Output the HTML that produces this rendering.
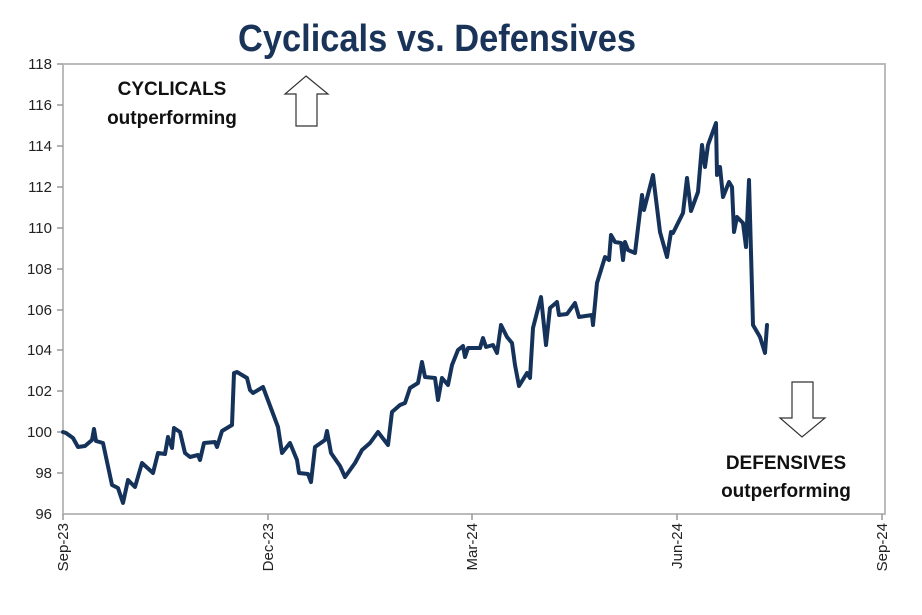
<!DOCTYPE html><html><head><style>body{margin:0;background:#fff}</style></head><body>
<svg width="922" height="610" xmlns="http://www.w3.org/2000/svg" font-family="Liberation Sans, Arial, sans-serif">
<rect width="922" height="610" fill="#fff"/>
<text x="238" y="51" textLength="398" lengthAdjust="spacingAndGlyphs" font-weight="bold" font-size="38" fill="#1a3358">Cyclicals vs. Defensives</text>
<g stroke="#bbb" stroke-width="2" fill="none">
<polyline points="63,64 885,64 885,514 63,514 63,64"/>
</g>
<g stroke="#999" stroke-width="1.5">
<line x1="57" y1="64" x2="63" y2="64"/><line x1="57" y1="105" x2="63" y2="105"/><line x1="57" y1="146" x2="63" y2="146"/><line x1="57" y1="187" x2="63" y2="187"/><line x1="57" y1="228" x2="63" y2="228"/><line x1="57" y1="269" x2="63" y2="269"/><line x1="57" y1="310" x2="63" y2="310"/><line x1="57" y1="350" x2="63" y2="350"/><line x1="57" y1="391" x2="63" y2="391"/><line x1="57" y1="432" x2="63" y2="432"/><line x1="57" y1="473" x2="63" y2="473"/>
<line x1="268" y1="514" x2="268" y2="520"/><line x1="472" y1="514" x2="472" y2="520"/><line x1="677" y1="514" x2="677" y2="520"/><line x1="63" y1="514" x2="63" y2="520"/><line x1="882" y1="514" x2="882" y2="520"/>
</g>
<g font-size="15" fill="#222" text-anchor="end">
<text x="52" y="69">118</text><text x="52" y="110">116</text><text x="52" y="151">114</text><text x="52" y="192">112</text><text x="52" y="233">110</text><text x="52" y="274">108</text><text x="52" y="315">106</text><text x="52" y="355">104</text><text x="52" y="396">102</text><text x="52" y="437">100</text><text x="52" y="478">98</text><text x="52" y="519">96</text>
</g>
<g font-size="15" fill="#222" text-anchor="end">
<text transform="translate(68,523) rotate(-90)">Sep-23</text>
<text transform="translate(273,523) rotate(-90)">Dec-23</text>
<text transform="translate(477,523) rotate(-90)">Mar-24</text>
<text transform="translate(682,523) rotate(-90)">Jun-24</text>
<text transform="translate(887,523) rotate(-90)">Sep-24</text>
</g>
<polyline fill="none" stroke="#15335a" stroke-width="4" stroke-linejoin="round" stroke-linecap="round" points="63,432 66,433 73,438 78,447 85,446 92,440 94,429 96,441 103,443 112,485 118,488 123,503 128,480 135,487 142,463 153,473 158,453 165,454 168,437 172,448 174,428 180,432 185,453 190,457 198,455 200,460 204,443 215,442 217,447 222,431 232,425 234,373 237,372 247,378 250,390 253,393 263,387 278,427 282,453 290,443 297,460 299,473 308,474 311,482 315,447 325,440 327,431 331,453 340,466 345,477 355,463 362,450 370,443 378,432 388,445 392,412 400,405 405,403 410,388 418,383 422,362 425,377 435,378 438,400 442,378 448,385 452,365 458,350 463,346 465,357 468,348 480,348 483,338 486,347 493,345 497,353 501,325 507,337 512,343 515,365 519,386 527,373 530,378 533,328 541,297 546,345 550,308 557,302 559,315 567,314 575,303 579,317 592,315 593,325 597,283 605,257 609,260 611,235 615,242 621,243 623,260 625,242 628,250 635,253 642,195 644,210 653,175 660,232 667,257 671,232 673,233 683,213 687,178 691,211 698,192 702,145 705,167 708,145 716,123 717,175 720,167 723,197 729,182 732,187 734,232 737,217 743,223 746,247 749,180 753,325 760,337 765,353 767,325"/>
<g font-size="19" font-weight="bold" fill="#111" text-anchor="middle">
<text x="172" y="95">CYCLICALS</text><text x="172" y="124">outperforming</text>
<text x="786" y="469">DEFENSIVES</text><text x="786" y="497">outperforming</text>
</g>
<polygon points="306,76 328,94 317,94 317,126 296,126 296,94 285,94" fill="#fff" stroke="#333" stroke-width="1.2"/>
<polygon points="792,382 813,382 813,418 825,418 802,437 780,418 792,418" fill="#fff" stroke="#333" stroke-width="1.2"/>
</svg>
</body></html>
